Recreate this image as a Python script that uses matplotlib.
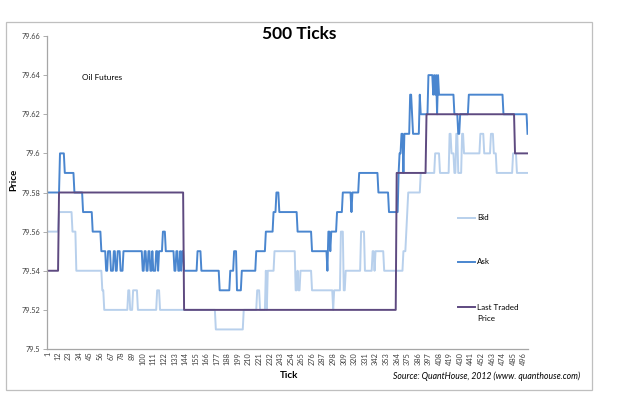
import numpy as np
import matplotlib
matplotlib.use("Agg")
import matplotlib.pyplot as plt
from matplotlib.lines import Line2D
from matplotlib.patches import Rectangle

plt.rcParams['font.family'] = ['Lato', 'DejaVu Sans']

# ---- data (step runs: tick where a new level starts, level) ----
last_starts = [1, 13, 143, 364, 395, 487]
last_values = [79.54, 79.58, 79.52, 79.59, 79.62, 79.60]

ask_starts = [1, 14, 19, 29, 38, 48, 57,
              62, 64, 67, 70, 72, 74, 77, 80,
              100, 102, 104, 106, 108, 110, 111, 114, 116, 117, 121, 124,
              133, 135, 137, 139, 140, 141, 143, 157, 161, 180, 191, 195, 198, 203,
              218, 228, 236, 239, 242, 261, 276, 292, 293, 295, 296, 302, 308, 317, 318,
              325, 345, 356, 366, 367, 369, 371, 372, 378, 380, 381, 388, 389, 397,
              402, 403, 404, 405, 406, 407, 408, 424, 428, 430, 439, 475, 500]
ask_values = [79.58, 79.60, 79.59, 79.58, 79.57, 79.56, 79.55,
              79.54, 79.55, 79.54, 79.55, 79.54, 79.55, 79.54, 79.55,
              79.54, 79.55, 79.54, 79.55, 79.54, 79.55, 79.54, 79.55, 79.54, 79.55, 79.56, 79.55,
              79.54, 79.55, 79.54, 79.55, 79.54, 79.55, 79.54, 79.55, 79.54, 79.53, 79.54, 79.55, 79.53, 79.54,
              79.55, 79.56, 79.57, 79.58, 79.57, 79.56, 79.55, 79.54, 79.56, 79.55, 79.56, 79.57, 79.58, 79.57, 79.58,
              79.59, 79.58, 79.57, 79.59, 79.60, 79.61, 79.59, 79.61, 79.63, 79.62, 79.61, 79.63, 79.62, 79.64,
              79.63, 79.64, 79.63, 79.64, 79.62, 79.64, 79.63, 79.62, 79.61, 79.62, 79.63, 79.62, 79.61]

bid_starts = [1, 13, 27, 31, 58, 60, 85, 87, 90, 95, 115, 118, 176, 205, 219, 222,
              228, 229, 230, 237, 259, 261, 262, 264, 276, 298, 299, 306, 309, 311,
              327, 331, 339, 341, 342, 351, 371, 374, 375, 376, 389, 404, 409,
              419, 421, 424, 426, 428, 432, 434, 451, 455, 462, 465, 468, 485, 489]
bid_values = [79.56, 79.57, 79.56, 79.54, 79.53, 79.52, 79.53, 79.52, 79.53, 79.52, 79.53, 79.52, 79.51, 79.52, 79.53, 79.52,
              79.54, 79.52, 79.54, 79.55, 79.53, 79.54, 79.53, 79.54, 79.53, 79.52, 79.53, 79.56, 79.53, 79.54,
              79.56, 79.54, 79.55, 79.54, 79.55, 79.54, 79.55, 79.56, 79.57, 79.58, 79.59, 79.60, 79.59,
              79.61, 79.60, 79.59, 79.61, 79.59, 79.61, 79.60, 79.61, 79.60, 79.61, 79.60, 79.59, 79.60, 79.59]

n_ticks = 500
tick_labels = [str(t) for t in range(1, n_ticks + 1, 11)]
y_ticks = [79.5, 79.52, 79.54, 79.56, 79.58, 79.6, 79.62, 79.64, 79.66]


def expand(starts, values, n):
    lengths = np.diff(list(starts) + [n + 1])
    return np.repeat(values, lengths)


ticks = np.arange(1, n_ticks + 1)
bid = expand(bid_starts, bid_values, n_ticks)
ask = expand(ask_starts, ask_values, n_ticks)
last = expand(last_starts, last_values, n_ticks)

W, H = 640, 393
fig = plt.figure(figsize=(6.4, 3.93), dpi=100)
fig.patch.set_facecolor('white')


def fx(px):
    return px / W


def fy(py):
    return 1 - py / H


# chart border
fig.add_artist(Rectangle((fx(6), fy(390)), fx(592) - fx(6), fy(22) - fy(390),
                         transform=fig.transFigure, fill=False, edgecolor='#bfbfbf', lw=0.9))

ax = fig.add_axes([fx(47), fy(349), fx(528) - fx(47), fy(36) - fy(349)])
c_bid, c_ask, c_last = '#b8d0ec', '#4a86cf', '#5e4a80'
ax.plot(ticks, bid, color=c_bid, lw=1.4, solid_joinstyle='round')
ax.plot(ticks, ask, color=c_ask, lw=1.4, solid_joinstyle='round')
ax.plot(ticks, last, color=c_last, lw=1.4, solid_joinstyle='round')

ax.set_xlim(0.5, n_ticks + 0.5)
ax.set_ylim(79.5, 79.66)
ax.set_yticks(y_ticks)
ax.set_yticklabels([f"{v:g}" for v in y_ticks], fontsize=5.3, color='#404040')
ax.set_xticks(np.arange(1, n_ticks + 1, 11))
ax.set_xticklabels(tick_labels, rotation=90, fontsize=5.3, color='#404040')
ax.tick_params(axis='y', length=3, width=0.6, color='#a0a0a0', pad=2)
ax.tick_params(axis='x', length=0, pad=2)
for s in ['top', 'right']:
    ax.spines[s].set_visible(False)
for s in ['left', 'bottom']:
    ax.spines[s].set_color('#a6a6a6')
    ax.spines[s].set_linewidth(0.9)

fig.text(fx(299), fy(34), '500 Ticks', fontsize=12.5, fontweight='bold', ha='center', va='center')
fig.text(fx(14), fy(180), 'Price', fontsize=7, fontweight='bold', rotation=90, ha='center', va='center')
fig.text(fx(289), fy(376), 'Tick', fontsize=7, fontweight='bold', ha='center', va='center')
fig.text(fx(580), fy(376), 'Source: QuantHouse, 2012 (www. quanthouse.com)', fontsize=6.2,
         style='italic', ha='right', va='center')
ax.text(0.073, 0.869, 'Oil Futures', transform=ax.transAxes, fontsize=5.9, ha='left', va='center')

# legend
for ypx, col, lab in [(218, c_bid, 'Bid'), (262, c_ask, 'Ask'), (307, c_last, 'Last Traded')]:
    fig.add_artist(Line2D([fx(458), fx(475)], [fy(ypx), fy(ypx)], color=col, lw=1.4,
                          transform=fig.transFigure))
    fig.text(fx(477), fy(ypx), lab, fontsize=5.8, ha='left', va='center')
fig.text(fx(477), fy(318.5), 'Price', fontsize=5.8, ha='left', va='center')

fig.savefig('out.png', dpi=100)
